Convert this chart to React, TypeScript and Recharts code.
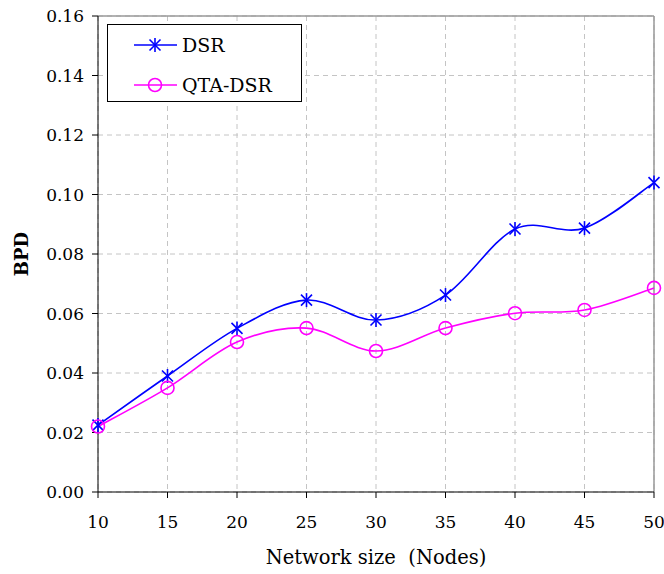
import { CartesianGrid, Line, LineChart, ReferenceLine, XAxis, YAxis } from "recharts";

const nodes = [10, 15, 20, 25, 30, 35, 40, 45, 50];
const dsr = [0.0225, 0.039, 0.055, 0.0645, 0.0578, 0.0662, 0.0884, 0.0887, 0.104];
const qtaDsr = [0.022, 0.035, 0.0504, 0.0551, 0.0474, 0.0551, 0.0601, 0.0612, 0.0686];
const yTicks = [0, 0.02, 0.04, 0.06, 0.08, 0.1, 0.12, 0.14, 0.16];

const data = nodes.map((n, i) => ({ n, dsr: dsr[i], qta: qtaDsr[i] }));

const FONT = "'DejaVu Serif', serif";
const BLUE = "#0000ff";
const MAGENTA = "#ff00ff";

// Excel-like smoothing (Catmull-Rom as cubic beziers)
function smoothCurve(context: any) {
  let pts: number[][] = [];
  return {
    areaStart() {},
    areaEnd() {},
    lineStart() {
      pts = [];
    },
    point(x: number, y: number) {
      pts.push([+x, +y]);
    },
    lineEnd() {
      if (!pts.length) return;
      context.moveTo(pts[0][0], pts[0][1]);
      for (let i = 0; i < pts.length - 1; i++) {
        const p0 = pts[i - 1] || pts[i];
        const p1 = pts[i];
        const p2 = pts[i + 1];
        const p3 = pts[i + 2] || p2;
        context.bezierCurveTo(
          p1[0] + (p2[0] - p0[0]) / 6,
          p1[1] + (p2[1] - p0[1]) / 6,
          p2[0] - (p3[0] - p1[0]) / 6,
          p2[1] - (p3[1] - p1[1]) / 6,
          p2[0],
          p2[1]
        );
      }
    },
  };
}

function Star({ cx, cy, color = BLUE }: any) {
  if (cx == null || cy == null) return null;
  const h = 5.5;
  const v = 7;
  return (
    <g stroke={color} strokeWidth={1.6}>
      <line x1={cx - h} y1={cy - h} x2={cx + h} y2={cy + h} />
      <line x1={cx - h} y1={cy + h} x2={cx + h} y2={cy - h} />
      <line x1={cx} y1={cy - v} x2={cx} y2={cy + v} />
    </g>
  );
}

function Ring({ cx, cy }: any) {
  if (cx == null || cy == null) return null;
  return <circle cx={cx} cy={cy} r={6.5} fill="none" stroke={MAGENTA} strokeWidth={1.6} />;
}

function LegendBox() {
  const rows = [
    { name: "DSR", color: BLUE, icon: <Star cx={21} cy={10} /> },
    { name: "QTA-DSR", color: MAGENTA, icon: <Ring cx={21} cy={10} /> },
  ];
  return (
    <div
      style={{
        position: "absolute",
        left: 107,
        top: 24,
        width: 193,
        height: 76,
        border: "1px solid #000",
        background: "#fff",
        fontFamily: FONT,
        fontSize: 19,
      }}
    >
      {rows.map((r, i) => (
        <div
          key={r.name}
          style={{ position: "absolute", left: 26, top: 10 + i * 40, height: 20, display: "flex", alignItems: "center" }}
        >
          <svg width={44} height={20} style={{ display: "block" }}>
            <line x1={0} y1={10} x2={43} y2={10} stroke={r.color} strokeWidth={1.6} />
            {r.icon}
          </svg>
          <span style={{ marginLeft: 4, lineHeight: "20px" }}>{r.name}</span>
        </div>
      ))}
    </div>
  );
}

export default function App() {
  return (
    <div style={{ position: "absolute", left: 0, top: 0, width: 664, height: 574, background: "#fff" }}>
      <LineChart width={664} height={574} data={data} margin={{ top: 16, right: 10, bottom: 52, left: 0 }}>
        <CartesianGrid stroke="#c4c4c4" strokeDasharray="5 4" />
        <XAxis
          dataKey="n"
          type="number"
          domain={[10, 50]}
          ticks={nodes}
          height={30}
          stroke="#000"
          tickSize={6}
          tickMargin={18}
          tick={{ fill: "#000", fontFamily: FONT, fontSize: 17 }}
          label={{
            value: "Network size\u00A0 (Nodes)",
            position: "bottom",
            offset: 28,
            style: { fill: "#000", fontFamily: FONT, fontSize: 19.5 },
          }}
        />
        <YAxis
          type="number"
          domain={[0, 0.16]}
          ticks={yTicks}
          width={98}
          stroke="#000"
          tickSize={6}
          tickMargin={8}
          tickFormatter={(v: number) => v.toFixed(2)}
          tick={{ fill: "#000", fontFamily: FONT, fontSize: 17 }}
          label={{
            value: "BPD",
            angle: -90,
            position: "center",
            dx: -27,
            style: { fill: "#000", fontFamily: FONT, fontSize: 18, fontWeight: "bold" },
          }}
        />
        <ReferenceLine x={50} stroke="#999" strokeWidth={1.5} />
        <ReferenceLine y={0.16} stroke="#999" strokeWidth={1.5} />
        <Line
          dataKey="dsr"
          type={smoothCurve as any}
          stroke={BLUE}
          strokeWidth={1.6}
          dot={<Star />}
          activeDot={false}
          isAnimationActive={false}
        />
        <Line
          dataKey="qta"
          type={smoothCurve as any}
          stroke={MAGENTA}
          strokeWidth={1.6}
          dot={<Ring />}
          activeDot={false}
          isAnimationActive={false}
        />
      </LineChart>
      <LegendBox />
    </div>
  );
}
